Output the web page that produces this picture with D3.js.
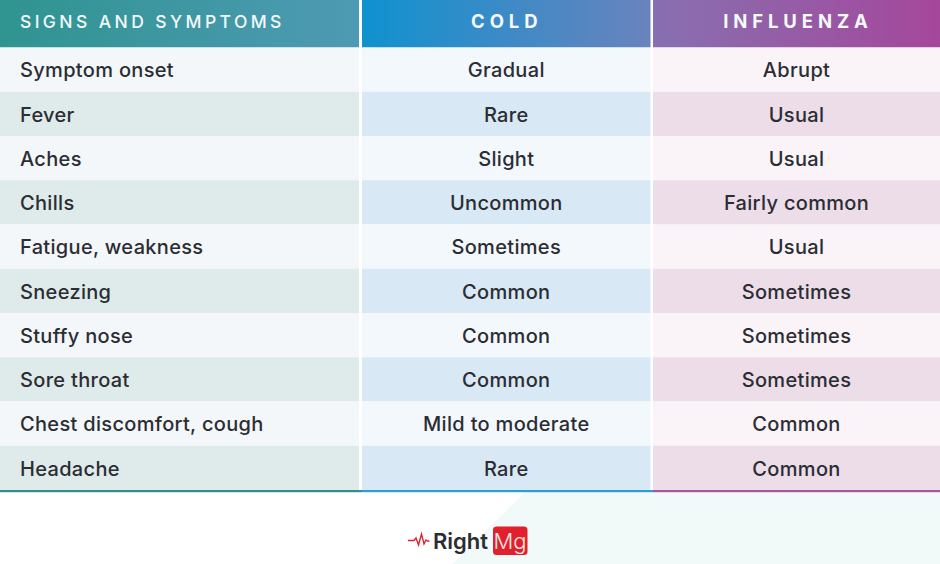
<!DOCTYPE html>
<html>
<head>
<meta charset="utf-8">
<script src="https://cdn.jsdelivr.net/npm/d3@7"></script>
<style>
  html, body { margin: 0; padding: 0; background: #fff; }
  svg { display: block; }
  text { font-family: Inter, "Noto Sans", sans-serif; }
</style>
</head>
<body>
<svg id="table-svg"></svg>
<script>
const columns = ["SIGNS AND SYMPTOMS", "COLD", "INFLUENZA"];
const symptoms = ["Symptom onset", "Fever", "Aches", "Chills", "Fatigue, weakness", "Sneezing", "Stuffy nose", "Sore throat", "Chest discomfort, cough", "Headache"];
const coldValues = ["Gradual", "Rare", "Slight", "Uncommon", "Sometimes", "Common", "Common", "Common", "Mild to moderate", "Rare"];
const fluValues = ["Abrupt", "Usual", "Usual", "Fairly common", "Usual", "Sometimes", "Sometimes", "Sometimes", "Common", "Common"];

const width = 940, height = 564;
const headerHeight = 47.5, tableBottom = 490;
const textColor = "#2b2d33";

// light and dark row colours per column
const rowLight = ["#f4f7fa", "#f3f8fd", "#faf4f9"];
const rowDark = ["#dfeaea", "#d8e9f5", "#ecdde9"];
const lineColor = ["#2f8f8f", "#2a9fd0", "#a9569f"];
const headerStops = [["#2f9490", "#4e9ab4"], ["#0f92cf", "#6a83bd"], ["#8770b0", "#a5479b"]];

const svg = d3.select("#table-svg").attr("width", width).attr("height", height);

// Column widths are not equal, so an ordinal scale gives the edges
const colLeft = d3.scaleOrdinal().domain(columns).range([0, 362, 653]);
const colWidth = d3.scaleOrdinal().domain(columns).range([359, 288.5, 287]);
const y = d3.scaleBand().domain(symptoms).range([headerHeight, tableBottom]);

const defs = svg.append("defs");
columns.forEach((c, i) => {
  const grad = defs.append("linearGradient").attr("id", `head-${i}`);
  grad.append("stop").attr("offset", "0%").attr("stop-color", headerStops[i][0]);
  grad.append("stop").attr("offset", "100%").attr("stop-color", headerStops[i][1]);
});

// Pale corner behind the logo
svg.append("path")
  .attr("d", `M527,490 L${width},490 L${width},${height} L452,${height} Z`)
  .attr("fill", "#f2f9f9");

// Header cells
const head = svg.append("g").selectAll("g").data(columns).join("g");
head.append("rect")
  .attr("x", d => colLeft(d))
  .attr("y", 0)
  .attr("width", d => colWidth(d))
  .attr("height", headerHeight)
  .attr("fill", (d, i) => `url(#head-${i})`);
head.append("text")
  .attr("x", (d, i) => i === 0 ? 20 : colLeft(d) + colWidth(d) / 2 + i - 1 + 0.5)
  .attr("y", 28)
  .attr("text-anchor", (d, i) => i === 0 ? "start" : "middle")
  .attr("fill", "#f4f9fb")
  .attr("font-size", (d, i) => i === 0 ? 17.5 : 18.5)
  .attr("font-weight", (d, i) => i === 0 ? 500 : 700)
  .attr("letter-spacing", (d, i) => i === 0 ? 3.4 : 4.9)
  .text(d => d);

// Body rows
const rowData = symptoms.map((s, i) => [s, coldValues[i], fluValues[i]]);
const rows = svg.append("g").selectAll("g").data(rowData).join("g")
  .attr("transform", d => `translate(0,${y(d[0])})`);

rows.each(function (row, r) {
  const g = d3.select(this);
  g.selectAll("rect").data(columns).join("rect")
    .attr("x", d => colLeft(d))
    .attr("width", d => colWidth(d))
    .attr("height", y.bandwidth())
    .attr("fill", (d, i) => (r % 2 === 0 ? rowLight[i] : rowDark[i]));
  g.selectAll("text").data(row).join("text")
    .attr("x", (d, i) => i === 0 ? 20 : colLeft(columns[i]) + colWidth(columns[i]) / 2)
    .attr("y", y.bandwidth() / 2 + 7.7)
    .attr("text-anchor", (d, i) => i === 0 ? "start" : "middle")
    .attr("fill", textColor)
    .attr("font-size", 20)
    .attr("font-weight", 500)
    .attr("letter-spacing", 0.32)
    .text(d => d);
});

// Coloured rule under the table
svg.append("g").selectAll("rect").data(columns).join("rect")
  .attr("x", d => colLeft(d))
  .attr("y", tableBottom)
  .attr("width", d => colWidth(d) + 3)
  .attr("height", 2.2)
  .attr("fill", (d, i) => lineColor[i]);

// Logo
const logo = svg.append("g");
logo.append("path")
  .attr("d", "M408,540.5 h6 l2,-2.5 l2.5,7 l3,-11 l2.5,10 l2,-4 l1.5,1 h2")
  .attr("fill", "none")
  .attr("stroke", "#e0242e")
  .attr("stroke-width", 1.4);
logo.append("text")
  .attr("x", 433).attr("y", 548.5)
  .attr("font-size", 22).attr("font-weight", 600)
  .attr("fill", "#2b2d33")
  .text("Right");
logo.append("rect")
  .attr("x", 493).attr("y", 526.5)
  .attr("width", 34.5).attr("height", 28.5)
  .attr("rx", 3.5)
  .attr("fill", "#e2202b");
logo.append("text")
  .attr("x", 510).attr("y", 548.5)
  .attr("text-anchor", "middle")
  .attr("font-size", 22).attr("font-weight", 300)
  .attr("fill", "#fbe9e9")
  .text("Mg");
</script>
</body>
</html>
